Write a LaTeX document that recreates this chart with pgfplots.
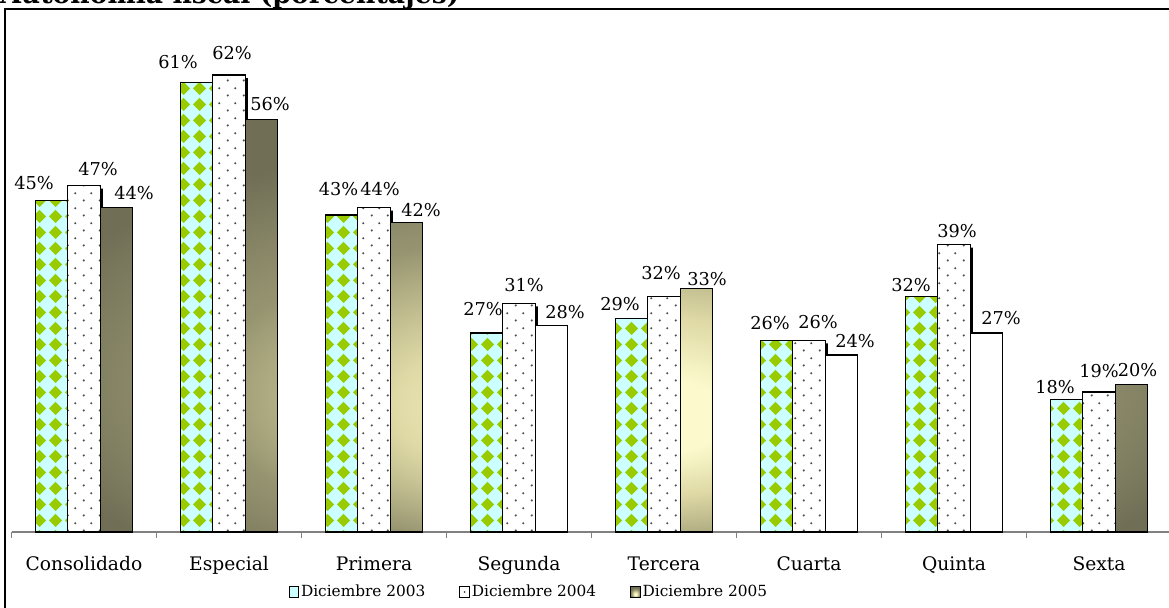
\documentclass[border=0pt]{standalone}
\usepackage{pgfplots}
\pgfplotsset{compat=1.18}
\usepackage{pgfplotstable}
\usepackage{fontspec}
\setmainfont{DejaVu Serif}
\usetikzlibrary{patterns}

\definecolor{cy}{RGB}{204,255,255}
\definecolor{gr}{RGB}{153,204,0}
\definecolor{shL}{RGB}{252,250,205}
\definecolor{shL2}{RGB}{222,217,165}
\definecolor{shM}{RGB}{150,148,112}
\definecolor{shD}{RGB}{112,111,86}
\definecolor{axgray}{RGB}{128,128,128}

\pgfdeclarepatternformonly{diamG}{\pgfpointorigin}{\pgfpoint{12pt}{12pt}}{\pgfpoint{12pt}{12pt}}{%
  \pgfpathmoveto{\pgfpoint{6pt}{0.8pt}}%
  \pgfpathlineto{\pgfpoint{11.2pt}{6pt}}%
  \pgfpathlineto{\pgfpoint{6pt}{11.2pt}}%
  \pgfpathlineto{\pgfpoint{0.8pt}{6pt}}%
  \pgfpathclose
  \pgfusepath{fill}%
}

\pgfdeclarepatternformonly{dotsW}{\pgfpointorigin}{\pgfpoint{12pt}{11pt}}{\pgfpoint{12pt}{11pt}}{%
  \pgfpathcircle{\pgfpoint{3pt}{2.75pt}}{0.9pt}%
  \pgfpathcircle{\pgfpoint{9pt}{8.25pt}}{0.9pt}%
  \pgfusepath{fill}%
}

\pgfdeclareradialshading{barshade}{\pgfpoint{0bp}{-12bp}}{color(0bp)=(shL); color(5bp)=(shL); color(11bp)=(shL2); color(20bp)=(shM); color(30bp)=(shD); color(60bp)=(shD)}

\pgfplotstableread{
x y dx dy
0 45 -17.5 17
1 61 -18.5 20
2 43 -3 26
3 27 -3.5 24
4 29 -11.5 14
5 26 -6.5 17
6 32 -10.5 11
7 18 -11.5 12
}\dA
\pgfplotstableread{
x y dx dy
0 47 14 17
1 62 3 22
2 44 6 19
3 31 5 19
4 32 -3 23
5 26 9 18
6 39 3 14
7 19 0 21
}\dB
\pgfplotstableread{
x y
0 46.6
1 61.6
2 43.6
3 30.6
4 31.6
5 25.6
6 38.6
7 18.6
}\dBs
\pgfplotstableread{
x y dx dy
0 44 17.5 15
1 56 8.5 15
2 42 14.5 12
4 33 10.5 10
7 20 6 15
}\dC
\pgfplotstableread{
x y dx dy
3 28 13.5 14
5 24 13.5 14
6 27 14.5 15
}\dCw

\pgfplotsset{
  lab/.style={
    nodes near coords={\pgfmathprintnumber[fixed,precision=0,assume math mode=true]{\pgfplotspointmeta}\%},
    visualization depends on={\thisrow{dx}\as\dx},
    visualization depends on={\thisrow{dy}\as\dy},
    every node near coord/.append style={anchor=center, xshift={\dx*0.75pt}, yshift={\dy*0.75pt}, font=\fontsize{13.3}{16}\selectfont, text=black, inner sep=0pt},
  },
}

\begin{document}
\begin{tikzpicture}
\useasboundingbox (0,0) rectangle (876.75pt,455.25pt);
\begin{axis}[
  at={(8.625pt,56.25pt)}, anchor=south west,
  scale only axis, width=870pt, height=386.9pt,
  xmin=-0.5, xmax=7.5, ymin=0, ymax=70,
  enlargelimits=false,
  axis x line*=bottom, axis y line=none,
  axis line style={axgray, line width=1.3pt},
  xtick={0,...,7},
  xticklabels={Consolidado,Especial,Primera,Segunda,Tercera,Cuarta,Quinta,Sexta},
  major x tick style={draw=none},
  minor xtick={-0.5,0.5,...,7.5},
  minor tick length=4.5pt,
  tick align=outside,
  minor x tick style={axgray, line width=1pt},
  xticklabel style={font=\fontsize{14}{16}\selectfont, anchor=base, yshift=-24.75pt},
  ytick=\empty,
  ybar, bar width=24.4pt,
  clip=false,
  legend columns=3,
  legend style={draw=none, fill=none, at={(0.446,-0.1163)}, anchor=center,
    font=\fontsize{11.5}{13}\selectfont,
    /tikz/every even column/.append style={column sep=24pt},
    nodes={inner sep=1.5pt}},
]
\addplot[bar shift=2pt, fill=black, draw=none, forget plot] table[x=x,y=y] {\dBs};
% Diciembre 2003
\addplot[bar shift=-24.4pt, fill=cy, draw=none,
  legend image code/.code={\draw[fill=cy, line width=0.6pt] (0pt,-3.9pt) rectangle (7.2pt,3.9pt);
    \fill[gr] (3.6pt,-3.5pt) -- (6.8pt,0pt) -- (3.6pt,3.5pt) -- (0.4pt,0pt) -- cycle;
    \draw[line width=0.6pt] (0pt,-3.9pt) rectangle (7.2pt,3.9pt);}] table[x=x,y=y] {\dA};
\addlegendentry{Diciembre 2003}
\addplot[bar shift=-24.4pt, pattern=diamG, pattern color=gr, draw=black, line width=1pt, lab, forget plot] table[x=x,y=y] {\dA};
% Diciembre 2004
\addplot[bar shift=0pt, fill=white, draw=none,
  legend image code/.code={\draw[fill=white, line width=0.6pt] (0pt,-3.9pt) rectangle (7.2pt,3.9pt);
    \fill[black!75] (3.6pt,0pt) circle (0.7pt);}] table[x=x,y=y] {\dB};
\addlegendentry{Diciembre 2004}
\addplot[bar shift=0pt, pattern=dotsW, pattern color=black!70, draw=black, line width=1pt, lab, forget plot] table[x=x,y=y] {\dB};
% Diciembre 2005
\addplot[bar shift=24.4pt, shading=barshade, draw=black, line width=1pt, lab,
  legend image code/.code={\draw[shading=barshade, line width=0.6pt] (0pt,-3.9pt) rectangle (7.2pt,3.9pt);}] table[x=x,y=y] {\dC};
\addlegendentry{Diciembre 2005}
\addplot[bar shift=24.4pt, fill=white, draw=black, line width=1pt, lab, forget plot] table[x=x,y=y] {\dCw};
\end{axis}
\node[anchor=base west, font=\bfseries\fontsize{20}{24}\selectfont, inner sep=0pt] at (0pt,452.9pt) {Autonomía fiscal (porcentajes)};
\draw[line width=1.8pt] (3.9pt,448.5pt) rectangle (900pt,-20pt);
\end{tikzpicture}
\end{document}
